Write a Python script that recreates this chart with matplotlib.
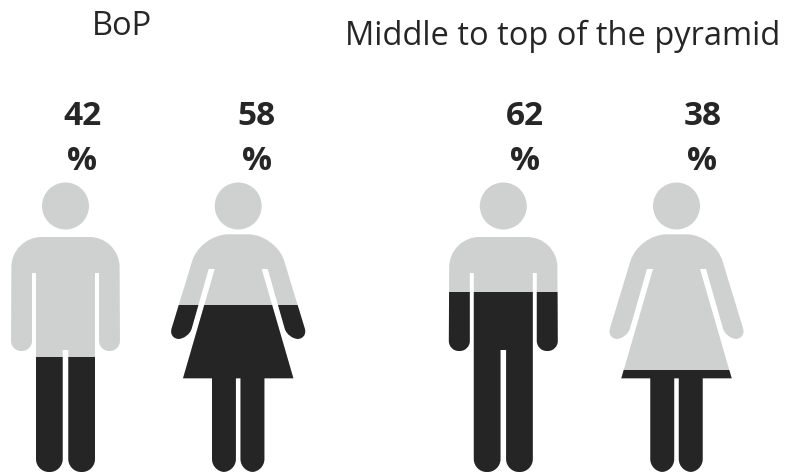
import matplotlib
matplotlib.use("Agg")
import matplotlib.pyplot as plt
import numpy as np
from matplotlib.path import Path
from matplotlib.patches import PathPatch, Circle

# Share of each group, in percent
groups = ["BoP", "Middle to top of the pyramid"]
man_share = [42, 62]
woman_share = [58, 38]

GREY = "#cfd1d0"
DARK = "#252525"
INK = "#262626"
FONT = "Open Sans"

# Half outlines: (offset from centre, height on the canvas, corner radius)
man_half = [(0, 237, 0), (54, 237, 30), (54.5, 351, 10), (33.5, 351, 10), (33.5, 273, 0),
            (29.5, 273, 0), (29.5, 472, 13), (2.8, 472, 13), (2.8, 350, 0), (0, 350, 0)]
woman_half = [(0, 234.3, 0), (37.9, 234.3, 28), (69.8, 339, 11), (49.5, 339, 11), (29.5, 269, 0),
              (23.5, 269, 0), (55.2, 378.3, 0), (26.2, 378.3, 0), (26.2, 472, 13), (2.3, 472, 13),
              (2.3, 378.3, 0), (0, 378.3, 0)]


def silhouette(half, cx):
    """Closed outline mirrored around cx, with rounded corners."""
    right = [(cx + dx, y, r) for dx, y, r in half]
    left = [(cx - dx, y, r) for dx, y, r in reversed(half[1:-1])]
    pts = right + left
    verts, codes = [], []
    n = len(pts)
    for i, (x, y, r) in enumerate(pts):
        p = np.array([x, y])
        if r == 0:
            verts.append(p)
            codes.append(Path.LINETO)
            continue
        a = np.array(pts[i - 1][:2]) - p
        b = np.array(pts[(i + 1) % n][:2]) - p
        a = a / np.linalg.norm(a)
        b = b / np.linalg.norm(b)
        verts += [p + a * r, p + a * r * 0.45, p + b * r * 0.45, p + b * r]
        codes += [Path.LINETO, Path.CURVE4, Path.CURVE4, Path.CURVE4]
    codes[0] = Path.MOVETO
    verts.append(verts[0])
    codes.append(Path.CLOSEPOLY)
    return Path(verts, codes)


fig = plt.figure(figsize=(7.86, 4.72), dpi=100)
canvas = fig.add_axes([0, 0, 1, 1])
canvas.set_xlim(0, 786)
canvas.set_ylim(472, 0)
canvas.axis("off")

# Percent scale used by the dark fill: 0 sits below the feet
level = fig.add_axes([0, 0, 1, 1], sharex=canvas)
level.set_ylim((493.5 - 472) / 3.25, 493.5 / 3.25)
level.axis("off")
level.patch.set_alpha(0)


def person(half, cx, share, label_x):
    outline = PathPatch(silhouette(half, cx), facecolor=GREY, edgecolor="none", transform=canvas.transData)
    canvas.add_patch(outline)
    canvas.add_patch(Circle((cx, 206), 23.5, facecolor=GREY, edgecolor="none"))
    bars = level.bar([cx], [share], width=160, color=DARK, linewidth=0)
    for bar in bars:
        bar.set_clip_path(outline)
    for y, text in zip((125, 170), (f"{share}", "%")):
        canvas.text(label_x, y, text, ha="center", va="baseline", fontsize=24,
                    fontweight="bold", family=FONT, color=INK)


person(man_half, 65.5, man_share[0], 82.3)
person(woman_half, 238.2, woman_share[0], 256.7)
person(man_half, 503.3, man_share[1], 524.8)
person(woman_half, 676.5, woman_share[1], 702.3)

canvas.text(122.3, 35, groups[0], ha="center", va="baseline", fontsize=23.5, family=FONT, color=INK)
canvas.text(345, 45, groups[1], ha="left", va="baseline", fontsize=23.5, family=FONT, color=INK)

fig.savefig("out.png", dpi=100)
